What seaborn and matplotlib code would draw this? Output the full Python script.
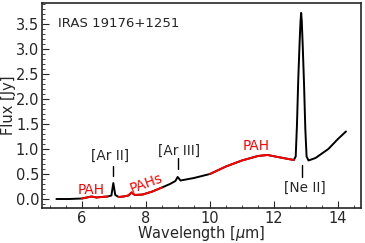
import seaborn as sns
import matplotlib.pyplot as plt
import pandas as pd
from matplotlib.ticker import MultipleLocator

# Spectre de IRAS 19176+1251
wavelength = [5.20, 5.60, 6.00, 6.15, 6.30, 6.45, 6.60, 6.80, 6.92, 6.98, 7.04, 7.15,
              7.30, 7.45, 7.55, 7.65, 7.90, 8.20, 8.50, 8.75, 8.92, 8.99, 9.08, 9.50,
              10.00, 10.50, 11.00, 11.50, 11.80, 12.20, 12.45, 12.62, 12.68, 12.72,
              12.76, 12.80, 12.83, 12.85, 12.87, 12.90, 12.94, 12.98, 13.02, 13.08,
              13.30, 13.70, 14.00, 14.25]
flux = [0.00, 0.00, 0.01, 0.03, 0.05, 0.03, 0.04, 0.05, 0.07, 0.32, 0.08, 0.04,
        0.05, 0.07, 0.13, 0.08, 0.09, 0.15, 0.23, 0.30, 0.36, 0.44, 0.37, 0.42,
        0.50, 0.65, 0.77, 0.86, 0.88, 0.83, 0.80, 0.78, 0.85, 1.50,
        2.40, 3.10, 3.55, 3.72, 3.55, 3.05, 2.30, 1.40, 0.85, 0.77,
        0.82, 1.00, 1.20, 1.35]

# zones PAH tracées en rouge
pah_ranges = [(6.00, 6.80), (7.15, 8.50), (10.00, 12.62)]

# raies et étiquettes
line_labels = ['[Ar II]', '[Ar III]', '[Ne II]']
pah_labels = ['PAH', 'PAHs', 'PAH']

df = pd.DataFrame({'wl': wavelength, 'flux': flux})

sns.set_style('ticks')
plt.rcParams['font.family'] = ['DejaVu Sans']
fig = plt.figure(figsize=(3.65, 2.43), dpi=100)
ax = fig.add_axes([0.115, 0.144, 0.874, 0.844])

sns.lineplot(data=df, x='wl', y='flux', color='black', lw=1.4, ax=ax)
for lo, hi in pah_ranges:
    seg = df[(df.wl >= lo) & (df.wl <= hi)]
    sns.lineplot(data=seg, x='wl', y='flux', color='red', lw=1.4, ax=ax)

ax.set_xlim(4.75, 14.72)
ax.set_ylim(-0.18, 3.92)
ax.xaxis.set_major_locator(MultipleLocator(2))
ax.xaxis.set_minor_locator(MultipleLocator(0.5))
ax.yaxis.set_major_locator(MultipleLocator(0.5))
ax.yaxis.set_minor_locator(MultipleLocator(0.1))
ax.tick_params(which='both', direction='in', labelsize=10.5, pad=2)
ax.tick_params(which='major', length=5)
ax.tick_params(which='minor', length=2.5)
for s in ax.spines.values():
    s.set_linewidth(1.2)

ax.set_xlabel(r'Wavelength [$\mu$m]', fontsize=10.5, labelpad=-1)
ax.set_ylabel('Flux [Jy]', fontsize=10.5, labelpad=0)

ax.text(5.25, 3.5, 'IRAS 19176+1251', fontsize=9.5, va='center', ha='left')

# raies
ax.text(6.88, 0.86, line_labels[0], fontsize=9.8, ha='center', va='center')
ax.plot([6.98, 6.98], [0.46, 0.66], color='black', lw=1)
ax.text(9.05, 0.97, line_labels[1], fontsize=9.8, ha='center', va='center')
ax.plot([9.0, 9.0], [0.6, 0.82], color='black', lw=1)
ax.text(12.97, 0.22, line_labels[2], fontsize=9.8, ha='center', va='center')
ax.plot([12.87, 12.87], [0.44, 0.68], color='black', lw=1)

# PAH
ax.text(6.3, 0.18, pah_labels[0], fontsize=9.8, color='red', ha='center', va='center')
ax.text(8.0, 0.31, pah_labels[1], fontsize=9.8, color='red', ha='center', va='center', rotation=20)
ax.text(11.44, 1.06, pah_labels[2], fontsize=9.8, color='red', ha='center', va='center')

fig.savefig('out.png', dpi=100)
